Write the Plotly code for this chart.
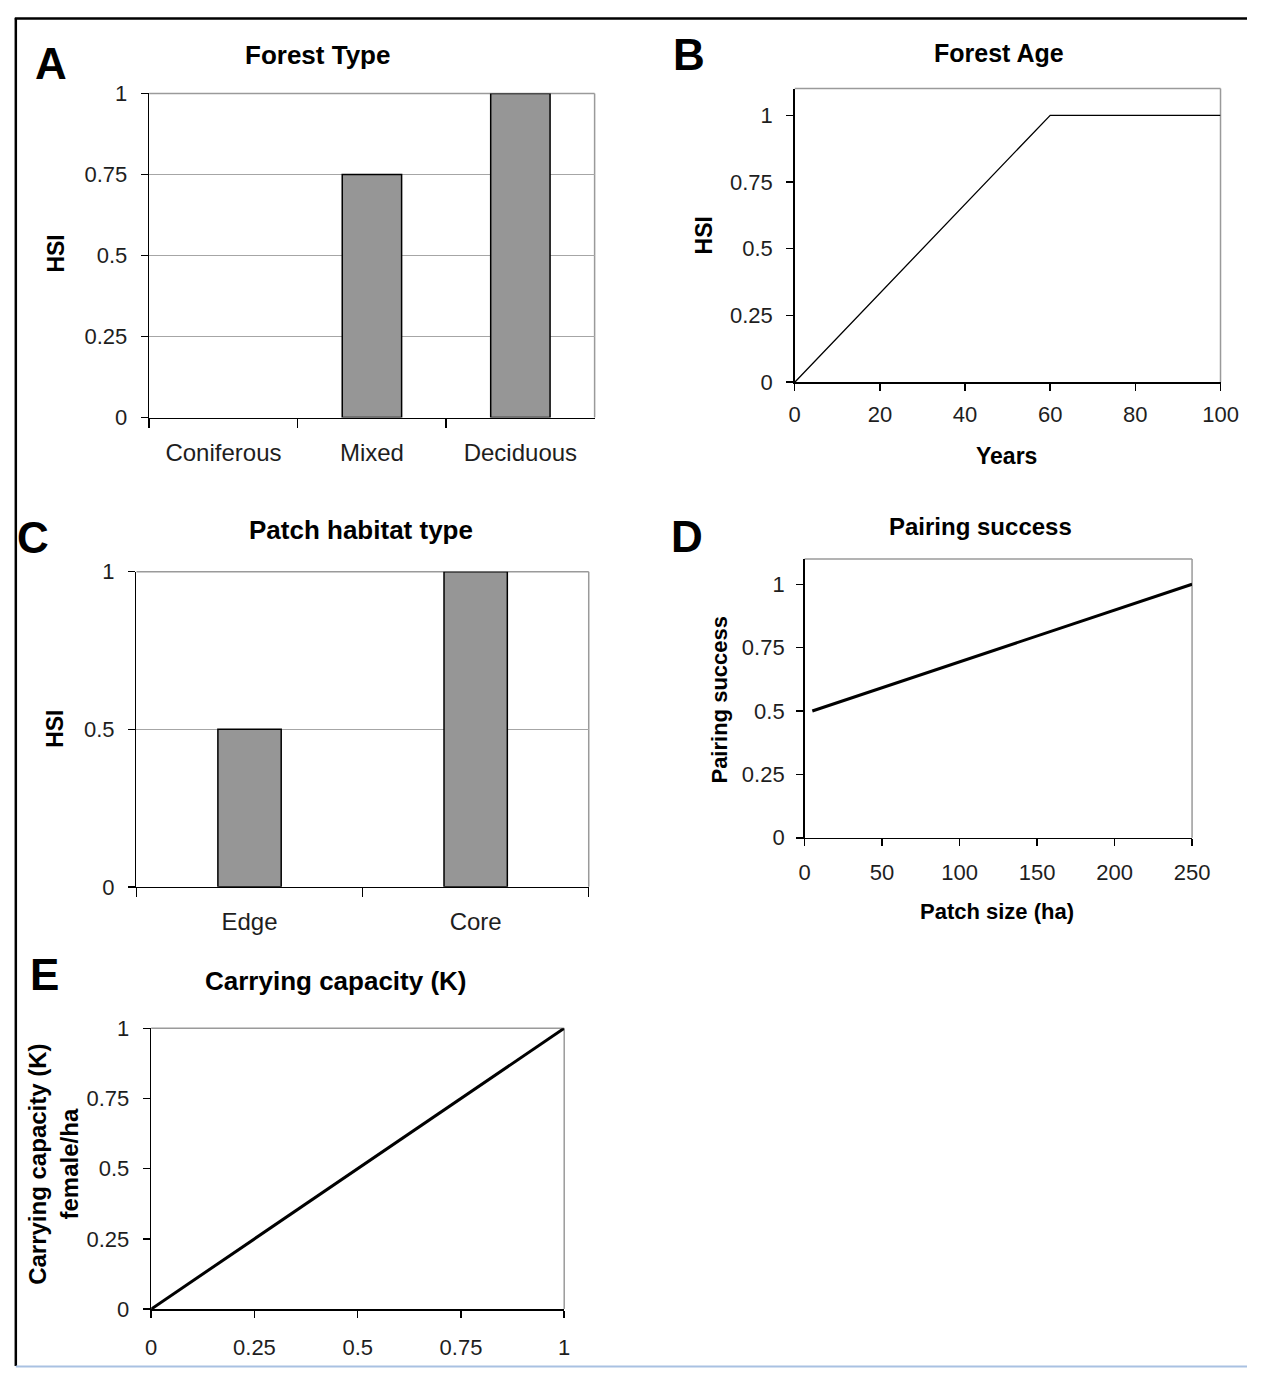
import plotly.graph_objects as go

W, H = 1265, 1381

# ---------------- data ----------------
forest_types = ["Coniferous", "Mixed", "Deciduous"]
forest_hsi = [0.0, 0.75, 1.0]

age_years = [0, 60, 100]
age_hsi = [0.0, 1.0, 1.0]

patch_types = ["Edge", "Core"]
patch_hsi = [0.5, 1.0]

patch_size_ha = [5, 250]
pairing_success = [0.5, 1.0]

k_hsi = [0.0, 1.0]
k_female_ha = [0.0, 1.0]

quarter_ticks = [0, 0.25, 0.5, 0.75, 1]
half_ticks = [0, 0.5, 1]

# ---------------- helpers ----------------
def xd(a, b):
    return [a / W, b / W]

def yd(top, bottom):
    return [1 - bottom / H, 1 - top / H]

FONT = "Arial, Liberation Sans, sans-serif"
TICKFONT = dict(family=FONT, size=22, color="#1e1e1e")
CATFONT = dict(family=FONT, size=24, color="#1e1e1e")
GRID = "#a6a6a6"
FRAME = "#9a9a9a"

def base_axis(**kw):
    d = dict(showline=True, linecolor="black", linewidth=1.5, ticks="outside",
             ticklen=7, tickwidth=1.5, tickcolor="black", tickfont=TICKFONT,
             showgrid=False, zeroline=False, fixedrange=True)
    d.update(kw)
    return d

bar_line_a = [0 if v == 0 else 1.5 for v in forest_hsi]

fig = go.Figure()

# A: Forest type
fig.add_trace(go.Bar(x=forest_types, y=forest_hsi, width=0.4,
                     marker=dict(color="#969696", line=dict(color="black", width=bar_line_a)),
                     xaxis="x", yaxis="y", showlegend=False, hoverinfo="skip"))
# B: Forest age
fig.add_trace(go.Scatter(x=age_years, y=age_hsi, mode="lines",
                         line=dict(color="black", width=1.3),
                         xaxis="x2", yaxis="y2", showlegend=False, hoverinfo="skip"))
# C: Patch habitat type
fig.add_trace(go.Bar(x=patch_types, y=patch_hsi, width=0.28,
                     marker=dict(color="#969696", line=dict(color="black", width=1.5)),
                     xaxis="x3", yaxis="y3", showlegend=False, hoverinfo="skip"))
# D: Pairing success
fig.add_trace(go.Scatter(x=patch_size_ha, y=pairing_success, mode="lines",
                         line=dict(color="black", width=3),
                         xaxis="x4", yaxis="y4", showlegend=False, hoverinfo="skip"))
# E: Carrying capacity
fig.add_trace(go.Scatter(x=k_hsi, y=k_female_ha, mode="lines",
                         line=dict(color="black", width=3),
                         xaxis="x5", yaxis="y5", showlegend=False, hoverinfo="skip"))

fig.update_layout(
    width=W, height=H, margin=dict(l=0, r=0, t=0, b=0),
    paper_bgcolor="white", plot_bgcolor="white",
    font=dict(family=FONT, color="black"),
    # A
    xaxis=base_axis(domain=xd(146, 600), anchor="y", type="category",
                    tickson="boundaries", range=[-0.5, 2.5], ticklen=9,
                    tickfont=CATFONT, ticklabelstandoff=13),
    yaxis=base_axis(domain=yd(83, 413), anchor="x", range=[0, 1],
                    tickvals=quarter_ticks, showgrid=True, gridcolor=GRID,
                    gridwidth=1.2, ticklabelstandoff=9),
    # B
    xaxis2=base_axis(domain=xd(804, 1238), anchor="y2", range=[0, 100],
                     dtick=20, ticklabelstandoff=5),
    yaxis2=base_axis(domain=yd(78, 377), anchor="x2", range=[0, 1.1],
                     tickvals=quarter_ticks, ticklabelstandoff=9),
    # C
    xaxis3=base_axis(domain=xd(133, 594), anchor="y3", type="category",
                     tickson="boundaries", range=[-0.5, 1.5], ticklen=9,
                     tickfont=CATFONT, ticklabelstandoff=13),
    yaxis3=base_axis(domain=yd(570, 891), anchor="x3", range=[0, 1],
                     tickvals=half_ticks, showgrid=True, gridcolor=GRID,
                     gridwidth=1.2, ticklabelstandoff=9),
    # D
    xaxis4=base_axis(domain=xd(814, 1209), anchor="y4", range=[0, 250],
                     dtick=50, ticklabelstandoff=7),
    yaxis4=base_axis(domain=yd(557, 841), anchor="x4", range=[0, 1.1],
                     tickvals=quarter_ticks, ticklabelstandoff=7),
    # E
    xaxis5=base_axis(domain=xd(148, 569), anchor="y5", range=[0, 1],
                     tickvals=quarter_ticks, ticklabelstandoff=11),
    yaxis5=base_axis(domain=yd(1035, 1321), anchor="x5", range=[0, 1],
                     tickvals=quarter_ticks, ticklabelstandoff=9),
)

# gray top/right frame lines of each plot area
shapes = []
for ax in ["", "2", "3", "4", "5"]:
    xr, yr = f"x{ax} domain", f"y{ax} domain"
    shapes.append(dict(type="line", xref=xr, yref=yr, x0=0, x1=1, y0=1, y1=1,
                       line=dict(color=FRAME, width=1.5), layer="below"))
    shapes.append(dict(type="line", xref=xr, yref=yr, x0=1, x1=1, y0=0, y1=1,
                       line=dict(color=FRAME, width=1.5), layer="below"))

# outer figure border (black top & left, light blue bottom)
shapes.append(dict(type="line", xref="paper", yref="paper", x0=9 / W, x1=1,
                   y0=1 - 6.5 / H, y1=1 - 6.5 / H, line=dict(color="black", width=2.5)))
shapes.append(dict(type="line", xref="paper", yref="paper", x0=10 / W, x1=10 / W,
                   y0=1 - 6 / H, y1=1 - 1379 / H, line=dict(color="black", width=2.5)))
shapes.append(dict(type="line", xref="paper", yref="paper", x0=10 / W, x1=1,
                   y0=1 - 1379.5 / H, y1=1 - 1379.5 / H, line=dict(color="#a9c1e2", width=2)))
fig.update_layout(shapes=shapes)

annos = []

def txt(text, px, py, size, bold=True, angle=0):
    t = f"<b>{text}</b>" if bold else text
    annos.append(dict(text=t, x=px / W, y=1 - py / H, xref="paper", yref="paper",
                      showarrow=False, xanchor="center", yanchor="middle",
                      textangle=angle, font=dict(family=FONT, size=size, color="black")))

# panel letters
txt("A", 46, 52, 44)
txt("B", 696, 43, 44)
txt("C", 28, 535, 44)
txt("D", 694, 534, 44)
txt("E", 39, 980, 44)

# titles
txt("Forest Type", 318, 44, 26)
txt("Forest Age", 1012, 42, 25)
txt("Patch habitat type", 362, 528, 26)
txt("Pairing success", 993, 524, 24)
txt("Carrying capacity (K)", 336, 987, 26)

# axis titles
txt("HSI", 50, 246, 23, angle=-90)
txt("HSI", 711, 228, 23, angle=-90)
txt("Years", 1020, 452, 23)
txt("HSI", 50, 730, 23, angle=-90)
txt("Pairing success", 727, 700, 22, angle=-90)
txt("Patch size (ha)", 1010, 916, 22)
txt("Carrying capacity (K)<br>female/ha", 48, 1174, 24, angle=-90)

fig.update_layout(annotations=annos)

POST = """
(function(){
  var st = document.createElement('style');
  st.textContent = 'html,body{margin:0!important;padding:0!important;overflow:hidden!important;}';
  document.head.appendChild(st);
  var gd = document.getElementById('{plot_id}');
  var w = document.documentElement.clientWidth, h = document.documentElement.clientHeight;
  if (w > 600 && h > 600 && (w !== 1265 || h !== 1381)) {
    Plotly.relayout(gd, {width: w, height: h});
  }
})();
"""

fig.write_html("out.html",
               config={"displayModeBar": False, "staticPlot": True},
               post_script=POST)
